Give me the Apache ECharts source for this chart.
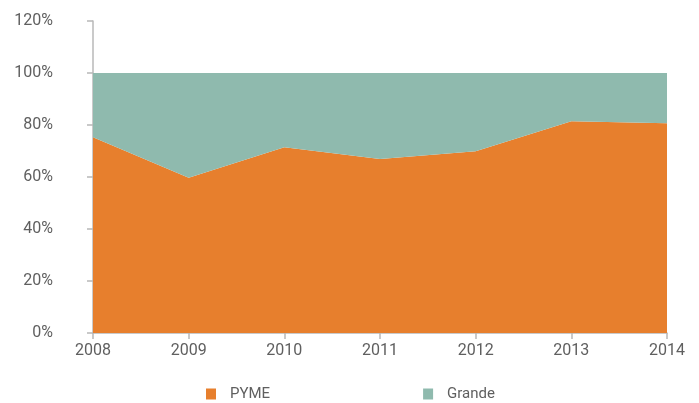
<!DOCTYPE html>
<html>
<head>
<meta charset="utf-8">
<script src="https://cdn.jsdelivr.net/npm/echarts@6/dist/echarts.min.js"></script>
<style>html,body{margin:0;padding:0;background:#fff}#c{width:699px;height:403px}</style>
</head>
<body>
<div id="c"></div>
<script>
var years = ['2008','2009','2010','2011','2012','2013','2014'];
var pyme = [75.3, 59.7, 71.4, 66.9, 69.9, 81.4, 80.7];
var grande = [24.7, 40.3, 28.6, 33.1, 30.1, 18.6, 19.3];
var yTicks = [0, 20, 40, 60, 80, 100, 120];

var chart = echarts.init(document.getElementById('c'), null, {renderer: 'canvas'});
var txt = '#5f5f5f', axisCol = '#b8b8b8';
var font = 'Roboto, "Liberation Sans", sans-serif';
chart.setOption({
  animation: false,
  grid: {left: 93, right: 32, top: 21, bottom: 70},
  legend: {
    left: 206, top: 386, padding: 0,
    itemWidth: 10, itemHeight: 11, itemGap: 153,
    icon: 'rect',
    textStyle: {color: txt, fontSize: 15, fontFamily: font, padding: [0, 0, 0, 9], lineHeight: 16},
    data: ['PYME', 'Grande']
  },
  xAxis: {
    type: 'category', data: years, boundaryGap: false,
    axisLine: {show: true, lineStyle: {color: axisCol, width: 1.5}},
    axisTick: {show: true, length: 6, lineStyle: {color: axisCol, width: 1.5}},
    axisLabel: {color: txt, fontSize: 16, fontFamily: font, margin: 10},
    splitLine: {show: false}
  },
  yAxis: {
    type: 'value', min: yTicks[0], max: yTicks[yTicks.length - 1], interval: 20,
    axisLine: {show: true, lineStyle: {color: axisCol, width: 1.5}},
    axisTick: {show: true, length: 6, lineStyle: {color: axisCol, width: 1.5}},
    axisLabel: {color: txt, fontSize: 16, fontFamily: font, margin: 40, formatter: '{value}%'},
    splitLine: {show: false}
  },
  series: [
    {name: 'PYME', type: 'line', stack: 'total', data: pyme, symbol: 'none',
     lineStyle: {width: 0}, itemStyle: {color: '#e77f2d'},
     areaStyle: {color: '#e77f2d', opacity: 1}, z: 1},
    {name: 'Grande', type: 'line', stack: 'total', data: grande, symbol: 'none',
     lineStyle: {width: 0}, itemStyle: {color: '#8fbaae'},
     areaStyle: {color: '#8fbaae', opacity: 1}, z: 1}
  ]
});
</script>
</body>
</html>
